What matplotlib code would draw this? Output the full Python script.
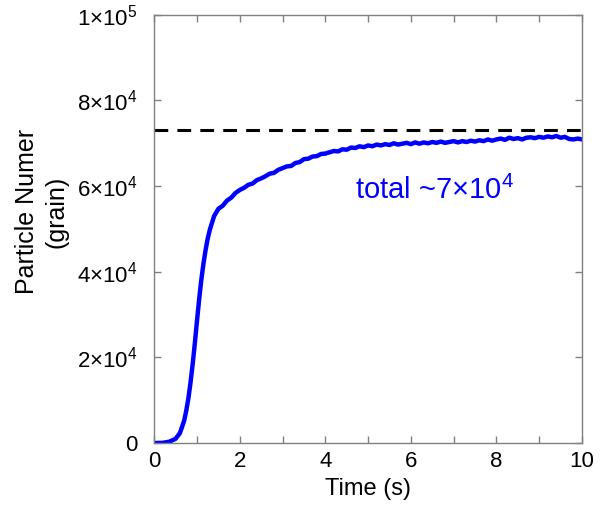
import matplotlib.pyplot as plt
from matplotlib.ticker import FixedLocator, FuncFormatter

plt.rcParams['font.family'] = ['Liberation Sans', 'DejaVu Sans']
plt.rcParams['mathtext.fontset'] = 'custom'
plt.rcParams['mathtext.rm'] = 'Liberation Sans'
plt.rcParams['mathtext.it'] = 'Liberation Sans:italic'
plt.rcParams['mathtext.bf'] = 'Liberation Sans:bold'

# particle count vs time
time_s = [0.0, 0.2, 0.35, 0.5, 0.6, 0.7, 0.75, 0.8, 0.85, 0.9, 0.95, 1.0, 1.05,
          1.1, 1.15, 1.2, 1.25, 1.3, 1.4, 1.5, 1.6, 1.7, 1.8, 1.9, 2.0, 2.1,
          2.2, 2.3, 2.4, 2.5, 2.6, 2.7, 2.8, 2.9, 3.0, 3.1, 3.2, 3.3, 3.4,
          3.5, 3.6, 3.7, 3.8, 3.9, 4.0, 4.1, 4.2, 4.3, 4.4, 4.5, 4.6, 4.7,
          4.8, 4.9, 5.0, 5.1, 5.2, 5.3, 5.4, 5.5, 5.6, 5.7, 5.8, 5.9, 6.0,
          6.1, 6.2, 6.3, 6.4, 6.5, 6.6, 6.7, 6.8, 6.9, 7.0, 7.1, 7.2, 7.3,
          7.4, 7.5, 7.6, 7.7, 7.8, 7.9, 8.0, 8.1, 8.2, 8.3, 8.4, 8.5, 8.6,
          8.7, 8.8, 8.9, 9.0, 9.1, 9.2, 9.3, 9.4, 9.5, 9.6, 9.7, 9.8, 9.9, 10.0]
particles = [0, 50, 300, 1000, 2300, 5200, 7600, 10500, 14200, 18500, 23300,
             28500, 33500, 38000, 41800, 45000, 47700, 49800, 53000, 54700,
             55400, 56600, 57300, 58400, 59100, 59600, 60300, 60600, 61400,
             61800, 62300, 62900, 63100, 63800, 64200, 64600, 64700, 65400,
             65600, 66300, 66400, 66900, 67000, 67500, 67600, 67900, 68200,
             68100, 68600, 68500, 69000, 68900, 69300, 69100, 69500, 69300,
             69700, 69500, 69800, 69600, 70000, 69700, 69900, 70100, 69800,
             70200, 69900, 70200, 70000, 70300, 70100, 70400, 70100, 70300,
             70500, 70200, 70500, 70300, 70600, 70400, 70700, 70500, 70900,
             70600, 70900, 71100, 70800, 71300, 71000, 71200, 70900, 71300,
             71400, 71200, 71500, 71300, 71600, 71400, 71700, 71300, 71500,
             71000, 70900, 71100, 70900]
total_ref = 73000

yticks = [0, 20000, 40000, 60000, 80000, 100000]
ytick_labels = ['0', r'$2{\times}10^{4}$', r'$4{\times}10^{4}$',
                r'$6{\times}10^{4}$', r'$8{\times}10^{4}$', r'$1{\times}10^{5}$']

fig = plt.figure(figsize=(6, 5.11), dpi=100)
ax = fig.add_axes([0.257, 0.133, 0.713, 0.838])

ax.plot(time_s, particles, color='#0000ff', lw=3.2, solid_capstyle='round')
ax.axhline(total_ref, color='black', lw=2.2, linestyle=(0, (4.5, 3)))

ax.set_xlim(0, 10)
ax.set_ylim(0, 100000)
ax.xaxis.set_major_locator(FixedLocator(range(0, 11)))
ax.xaxis.set_major_formatter(FuncFormatter(lambda v, p: '%d' % v if v % 2 == 0 else ''))
ax.set_yticks(yticks)
ax.set_yticklabels(ytick_labels)

for s in ax.spines.values():
    s.set_color('#808080')
    s.set_linewidth(1.0)
ax.tick_params(direction='in', top=True, right=True, length=5, width=1,
               color='#808080', labelsize=16, labelcolor='black')
ax.tick_params(axis='x', pad=6)
ax.tick_params(axis='y', pad=12)

ax.set_xlabel('Time (s)', fontsize=17, labelpad=4)
ax.set_ylabel('Particle Numer\n(grain)', fontsize=18, linespacing=1.3)
ax.yaxis.set_label_coords(-0.20, 0.54)

ax.text(6.55, 59000, r'total ~$7{\times}10^{4}$', color='#0000ff', fontsize=21,
        ha='center', va='center')

fig.savefig('out.png', dpi=100)
